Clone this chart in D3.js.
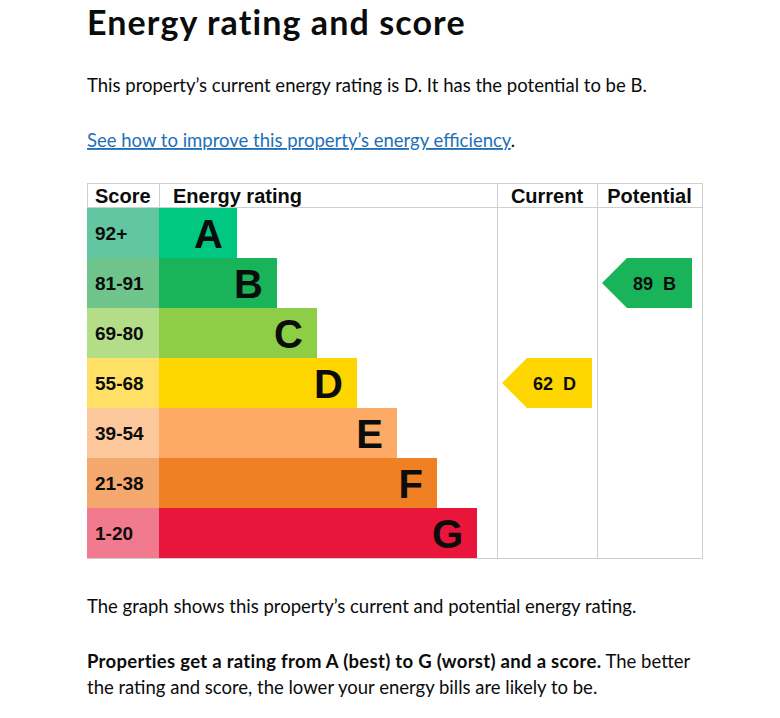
<!DOCTYPE html>
<meta charset="utf-8">
<head>
<style>
  body { margin: 0; background: #fff; }
  svg text { font-family: Lato, "Noto Sans", sans-serif; fill: #0b0c0c; }
  .epc text { font-family: "Liberation Sans", Arial, sans-serif; font-weight: bold; }
  .grid line { stroke: #cfcfcf; stroke-width: 1; shape-rendering: crispEdges; }
</style>
</head>
<body>
<script src="https://cdn.jsdelivr.net/npm/d3@7"></script>
<script>
var ratings = ["A", "B", "C", "D", "E", "F", "G"];
var scoreLabels = ["92+", "81-91", "69-80", "55-68", "39-54", "21-38", "1-20"];
var bandColors = ["#00c781", "#19b459", "#8dce46", "#ffd500", "#fcaa65", "#ef8023", "#e9153b"];
var scoreColors = ["#63c6a2", "#6fc48b", "#b4dd88", "#ffe066", "#fdc79c", "#f4a86e", "#f27a8f"];
var headers = ["Score", "Energy rating", "Current", "Potential"];
var current = { score: 62, rating: "D" };
var potential = { score: 89, rating: "B" };

var svg = d3.select("body").append("svg")
    .attr("width", 780)
    .attr("height", 718);

// page text
svg.append("text").attr("x", 87).attr("y", 35)
    .style("font-size", "34px").style("font-weight", "bold").style("letter-spacing", "1.1px")
    .text("Energy rating and score");
svg.append("text").attr("x", 87).attr("y", 92)
    .style("font-size", "18.5px")
    .text("This property\u2019s current energy rating is " + current.rating + ". It has the potential to be " + potential.rating + ".");
var link = svg.append("text").attr("x", 87).attr("y", 147).style("font-size", "18.5px");
link.append("tspan").style("fill", "#1d70b8").style("text-decoration", "underline")
    .text("See how to improve this property\u2019s energy efficiency");
link.append("tspan").text(".");

// chart
var chartTop = 183, headH = 25, left = 87, right = 702, bottom = 558;
var col = { score: 159, current: 497, potential: 597 };

var y = d3.scaleBand().domain(ratings).range([chartTop + headH, bottom]);
var barLen = d3.scaleLinear().domain([0, ratings.length - 1]).range([78, 318]);

var g = svg.append("g").attr("class", "epc");

var grid = g.append("g").attr("class", "grid");
grid.append("line").attr("x1", left).attr("x2", right + 1).attr("y1", chartTop + 0.5).attr("y2", chartTop + 0.5);
grid.append("line").attr("x1", left).attr("x2", right + 1).attr("y1", chartTop + headH - 0.5).attr("y2", chartTop + headH - 0.5);
grid.append("line").attr("x1", left).attr("x2", right + 1).attr("y1", bottom + 0.5).attr("y2", bottom + 0.5);
[left, col.score].forEach(function (x) {
    grid.append("line").attr("x1", x + 0.5).attr("x2", x + 0.5).attr("y1", chartTop).attr("y2", chartTop + headH);
});
[col.current, col.potential, right].forEach(function (x) {
    grid.append("line").attr("x1", x + 0.5).attr("x2", x + 0.5).attr("y1", chartTop).attr("y2", bottom + 1);
});

var hx = [left + 8, col.score + 14, (col.current + col.potential) / 2, (col.potential + right) / 2];
var ha = ["start", "start", "middle", "middle"];
g.selectAll(".head").data(headers).enter().append("text")
    .attr("x", function (d, i) { return hx[i]; })
    .attr("y", chartTop + 19.5)
    .attr("text-anchor", function (d, i) { return ha[i]; })
    .style("font-size", "20px")
    .text(function (d) { return d; });

var rows = g.selectAll(".row").data(ratings).enter().append("g").attr("class", "row");

rows.append("rect")
    .attr("x", left).attr("y", function (d) { return y(d); })
    .attr("width", col.score - left).attr("height", y.bandwidth())
    .attr("fill", function (d, i) { return scoreColors[i]; });

rows.append("text")
    .attr("x", left + 8).attr("y", function (d) { return y(d) + y.bandwidth() / 2 + 6.5; })
    .style("font-size", "19px")
    .text(function (d, i) { return scoreLabels[i]; });

rows.append("rect")
    .attr("x", col.score).attr("y", function (d) { return y(d); })
    .attr("width", function (d, i) { return barLen(i); }).attr("height", y.bandwidth())
    .attr("fill", function (d, i) { return bandColors[i]; });

rows.append("text")
    .attr("x", function (d, i) { return col.score + barLen(i) - 14; })
    .attr("y", function (d) { return y(d) + y.bandwidth() / 2 + 14.5; })
    .attr("text-anchor", "end")
    .style("font-size", "40px")
    .text(function (d) { return d; });

// arrows
function arrow(d, x0, x1) {
    var i = ratings.indexOf(d.rating);
    var y0 = y(d.rating), h = y.bandwidth();
    var tip = 25;
    g.append("path")
        .attr("d", "M" + x0 + "," + (y0 + h / 2) + "L" + (x0 + tip) + "," + y0 + "L" + x1 + "," + y0 +
            "L" + x1 + "," + (y0 + h) + "L" + (x0 + tip) + "," + (y0 + h) + "Z")
        .attr("fill", bandColors[i]);
    g.append("text")
        .attr("x", (x0 + x1) / 2 + 7.5)
        .attr("y", y0 + h / 2 + 6.5)
        .attr("text-anchor", "middle")
        .style("font-size", "18px")
        .style("white-space", "pre")
        .text(d.score + "  " + d.rating);
}
arrow(current, col.current + 5, col.potential - 5);
arrow(potential, col.potential + 5, right - 10);

// notes below
svg.append("text").attr("x", 87).attr("y", 613)
    .style("font-size", "18.5px")
    .text("The graph shows this property\u2019s current and potential energy rating.");
var p = svg.append("text").attr("x", 87).attr("y", 668).style("font-size", "18.5px");
p.append("tspan").style("font-weight", "bold").style("letter-spacing", "0.3px")
    .text("Properties get a rating from A (best) to G (worst) and a score.");
p.append("tspan").text(" The better");
svg.append("text").attr("x", 87).attr("y", 694)
    .style("font-size", "18.5px")
    .text("the rating and score, the lower your energy bills are likely to be.");
</script>
</body>
